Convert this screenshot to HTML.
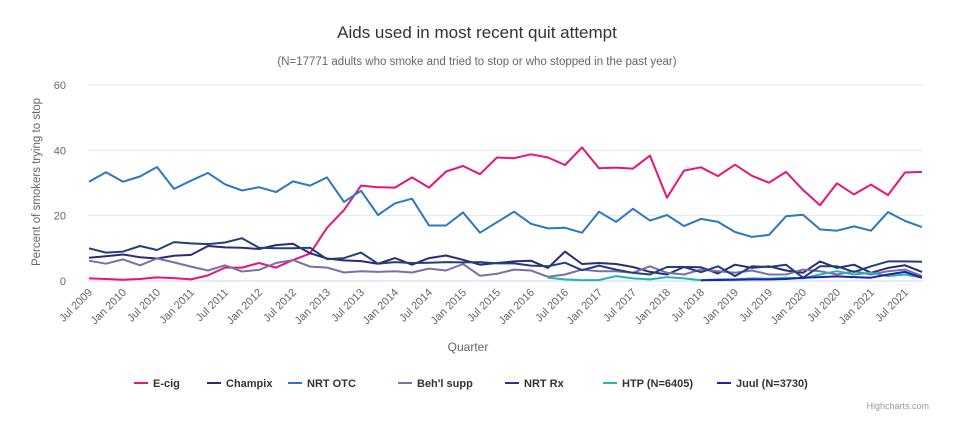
<!DOCTYPE html>
<html><head><meta charset="utf-8"><style>
body{margin:0;background:#fff;font-family:"Liberation Sans",sans-serif;}
svg text{font-family:"Liberation Sans",sans-serif;}
</style></head><body>
<svg id="chart" width="954" height="427" xmlns="http://www.w3.org/2000/svg">
<rect width="954" height="427" fill="#fff"/>
<text x="477" y="38" text-anchor="middle" font-size="17" fill="#333">Aids used in most recent quit attempt</text>
<text x="477" y="65" text-anchor="middle" font-size="11.5" fill="#666">(N=17771 adults who smoke and tried to stop or who stopped in the past year)</text>
<text transform="translate(40,182) rotate(-90)" text-anchor="middle" font-size="11.5" fill="#666">Percent of smokers trying to stop</text>
<text x="468" y="351" text-anchor="middle" font-size="12" fill="#666">Quarter</text>
<g id="grid"></g><g id="series"></g><g id="xlabels"></g><g id="legend"></g>
<text x="929" y="409" text-anchor="end" font-size="9" fill="#999">Highcharts.com</text>
</svg>
<script>
const yTicks=[0,20,40,60];
const months=["Jul","Oct","Jan","Apr"];
const seriesNames=["E-cig","Champix","NRT OTC","Beh'l supp","NRT Rx","HTP (N=6405)","Juul (N=3730)"];
const seriesColors=["#e6157a","#2e2a78","#2a78c0","#7a6fa8","#1e4278","#23b5b0","#1f1fb0"];
const ecig=[0.8,0.6,0.4,0.6,1.1,0.9,0.5,1.7,4.1,4.1,5.5,4.1,6.4,8.4,16.3,21.7,29.2,28.7,28.6,31.7,28.6,33.5,35.2,32.7,37.8,37.6,38.8,37.8,35.5,40.9,34.5,34.7,34.4,38.4,25.5,33.8,34.8,32.1,35.6,32.2,30.1,33.4,27.9,23.2,29.9,26.5,29.5,26.3,33.2,33.4];
const champix=[7.1,7.6,8.1,7.3,6.9,7.7,8.0,10.7,10.3,10.2,9.8,11.0,11.4,8.5,6.9,6.3,6.1,5.3,7,5,7,7.8,6.5,5,5.5,6,6.2,4,9,5.2,5.5,5.2,4.3,2.8,2,4.3,4.2,2.3,5,4,4.5,3.2,2.5,6,4,5,2.5,4,4.8,2.8];
const nrtOtc=[30.4,33.3,30.4,32.0,34.9,28.2,30.7,33.1,29.6,27.7,28.7,27.2,30.5,29.2,31.7,24.2,27.6,20.2,23.8,25.2,17.0,17.0,21.0,14.8,18.0,21.2,17.5,16.1,16.3,14.8,21.2,18.1,22.1,18.5,20.2,16.8,19.0,18.1,15.0,13.5,14.1,19.8,20.3,15.8,15.4,16.7,15.4,21.1,18.4,16.5];
const behl=[6.2,5.3,6.6,4.8,6.9,5.7,4.4,3.2,4.8,2.9,3.4,5.5,6.4,4.4,4.1,2.6,3.0,2.8,3,2.6,3.8,3.2,5.2,1.6,2.2,3.5,3.2,1.3,2,3.5,3,3,2.5,4.5,2.5,2,3.5,3,2.5,3.2,2,2,3.5,3,2,3,2,3,3.5,1.5];
const nrtRx=[10.0,8.7,9.0,10.7,9.5,11.9,11.5,11.3,11.8,13.1,10.2,10.0,10.0,10.2,6.7,7.0,8.7,5.3,5.8,5.5,5.6,5.8,5.7,5.8,5.4,5.4,4.7,4.5,5.6,3.3,4.7,3.5,2.5,2,4.3,4.3,2.7,4.5,1.5,4.5,4.3,5,1.0,4.5,4.5,2.8,4.5,6,6,5.9];
const htp=[null,null,null,null,null,null,null,null,null,null,null,null,null,null,null,null,null,null,null,null,null,null,null,null,null,null,null,1.0,0.5,0.2,0.3,1.5,0.8,0.5,1.2,0.8,0.2,0.5,0.5,0.8,0.7,1.0,0.8,2.0,3,2,2.5,1.5,2.0,1.0];
const juul=[null,null,null,null,null,null,null,null,null,null,null,null,null,null,null,null,null,null,null,null,null,null,null,null,null,null,null,null,null,null,null,null,null,null,null,null,0.2,0.3,0.4,0.5,0.5,0.6,1.0,1.2,1.4,1.2,1.0,2.0,2.8,1.0];
const allSeries=[ecig,champix,nrtOtc,behl,nrtRx,htp,juul];
const NS="http://www.w3.org/2000/svg";
const X0=89,X1=922,Y0=281,Y60=85;
const n=ecig.length;
function xs(i){return X0+(X1-X0)*i/(n-1);}
function ys(v){return Y0-(Y0-Y60)*v/60;}
function mk(tag,attrs,parent){const e=document.createElementNS(NS,tag);for(const k in attrs)e.setAttribute(k,attrs[k]);parent.appendChild(e);return e;}
const grid=document.getElementById('grid');
yTicks.forEach(t=>{
  const l=mk('line',{x1:X0-1,x2:X1+1,y1:ys(t),y2:ys(t),stroke:t===0?'#ccd6eb':'#e6e6e6','stroke-width':1},grid);
  
  
  const tx=mk('text',{x:66,y:ys(t)+4,'text-anchor':'end','font-size':11,fill:'#666'},grid);
  tx.textContent=t;
  
  
});
const xl=document.getElementById('xlabels');
for(let i=0;i<n;i+=2){
  const yr=2009+Math.floor((i+2)/4);
  const lab=months[i%4]+' '+yr;
  const t=mk('text',{transform:`translate(${xs(i)+4},${Y0+12}) rotate(-45)`,'text-anchor':'end','font-size':11,fill:'#666'},xl);
  t.textContent=lab;
  
  
}
const sg=document.getElementById('series');
allSeries.forEach((arr,s)=>{
  let d='',pen=false;
  arr.forEach((v,i)=>{ if(v==null){pen=false;return;} d+=(pen?'L':'M')+xs(i).toFixed(1)+' '+ys(v).toFixed(1)+' '; pen=true;});
  const p=mk('path',{d:d,fill:'none',stroke:seriesColors[s],'stroke-width':2,'stroke-linejoin':'round'},sg);
  
  
});
const lg=document.getElementById('legend');
const legX=[134,207,288,398,505,603,717];
seriesNames.forEach((nm,s)=>{
  const g=mk('g',{},lg);
  
  
  mk('line',{x1:legX[s],x2:legX[s]+14,y1:383,y2:383,stroke:seriesColors[s],'stroke-width':2},g);
  const t=mk('text',{x:legX[s]+19,y:387,'font-size':11,'font-weight':'bold',fill:'#333'},g);
  t.textContent=nm;
});
</script>
</body></html>
